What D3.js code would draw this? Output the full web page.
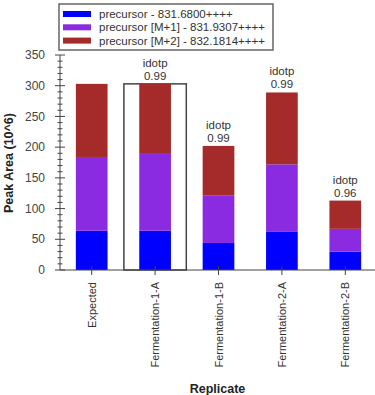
<!DOCTYPE html>
<html>
<head>
<meta charset="utf-8">
<script src="https://cdn.jsdelivr.net/npm/d3@7"></script>
<style>
  html, body { margin: 0; padding: 0; background: #fff; }
  svg { display: block; font-family: "Liberation Sans", Arial, sans-serif; }
</style>
</head>
<body>
<svg id="chart" width="375" height="395"></svg>
<script>
const categories = ["Expected", "Fermentation-1-A", "Fermentation-1-B", "Fermentation-2-A", "Fermentation-2-B"];
const seriesNames = ["precursor - 831.6800++++", "precursor [M+1] - 831.9307++++", "precursor [M+2] - 832.1814++++"];
const seriesColors = ["#0000FF", "#8A2BE2", "#A52A2A"];
const precursorM0 = [64, 64, 44, 62, 30];
const precursorM1 = [120, 125, 77, 110, 37];
const precursorM2 = [119, 114, 81, 117, 46];
const idotpLabels = [null, "0.99", "0.99", "0.99", "0.96"];
const selectedIndex = 1;
const yTicks = [0, 50, 100, 150, 200, 250, 300, 350];

(function () {
const svg = d3.select("#chart");
const mLeft = 60, mRight = 377, mTop = 55, mBottom = 270;

const x = d3.scaleBand().domain(categories).range([mLeft, mRight]).paddingInner(0.5).paddingOuter(0.25);
const y = d3.scaleLinear().domain([0, 350]).range([mBottom, mTop]);

const rows = categories.map((c, i) => ({ cat: c, v: [precursorM0[i], precursorM1[i], precursorM2[i]] }));

// selection box
const step = x.step();
svg.append("rect")
  .attr("x", x(categories[selectedIndex]) + x.bandwidth() / 2 - step / 2 + 0.5)
  .attr("y", y(d3.sum(rows[selectedIndex].v)))
  .attr("width", step - 1)
  .attr("height", mBottom - y(d3.sum(rows[selectedIndex].v)))
  .attr("fill", "none").attr("stroke", "#444").attr("stroke-width", 1.5);

// stacked bars
rows.forEach((r, i) => {
  let acc = 0;
  r.v.forEach((val, s) => {
    svg.append("rect")
      .attr("x", x(r.cat))
      .attr("y", y(acc + val))
      .attr("width", x.bandwidth())
      .attr("height", y(acc) - y(acc + val))
      .attr("fill", seriesColors[s]);
    acc += val;
  });
  if (idotpLabels[i]) {
    const cx = x(r.cat) + x.bandwidth() / 2;
    const t = y(acc);
    svg.append("text").attr("x", cx).attr("y", t - 17).attr("text-anchor", "middle")
      .attr("font-size", 11.5).attr("fill", "#333").text("idotp");
    svg.append("text").attr("x", cx).attr("y", t - 4).attr("text-anchor", "middle")
      .attr("font-size", 11.5).attr("fill", "#333").text(idotpLabels[i]);
  }
});

// y axis
const yAxisG = svg.append("g").attr("transform", `translate(${mLeft},0)`);
yAxisG.append("line").attr("x1", 0).attr("x2", 0).attr("y1", y(350)).attr("y2", mBottom).attr("stroke", "#444");
d3.range(0, 351, 10).forEach(v => {
  const major = v % 50 === 0;
  yAxisG.append("line").attr("x1", major ? -5 : -2.5).attr("x2", major ? 5 : 2.5)
    .attr("y1", y(v)).attr("y2", y(v)).attr("stroke", "#444");
});
yTicks.forEach(v => {
  yAxisG.append("text").attr("x", -15).attr("y", y(v)).attr("dy", "0.35em")
    .attr("text-anchor", "end").attr("font-size", 12).attr("fill", "#444").text(v);
});

// x axis
svg.append("line").attr("x1", mLeft).attr("x2", mRight).attr("y1", mBottom).attr("y2", mBottom).attr("stroke", "#444");
categories.forEach(c => {
  const cx = x(c) + x.bandwidth() / 2;
  svg.append("line").attr("x1", cx).attr("x2", cx).attr("y1", mBottom - 4).attr("y2", mBottom + 5).attr("stroke", "#444");
  svg.append("text").attr("transform", `translate(${cx + 4},${mBottom + 12}) rotate(-90)`)
    .attr("text-anchor", "end").attr("font-size", 11).attr("fill", "#333").text(c);
});

// axis titles
svg.append("text").attr("x", (mLeft + mRight) / 2 - 1).attr("y", 393).attr("text-anchor", "middle")
  .attr("font-size", 12.5).attr("font-weight", "bold").attr("fill", "#222").text("Replicate");
svg.append("text").attr("transform", `translate(13,${163}) rotate(-90)`).attr("text-anchor", "middle")
  .attr("font-size", 12.5).attr("font-weight", "bold").attr("fill", "#222").text("Peak Area (10^6)");

// legend
const lg = svg.append("g");
lg.append("rect").attr("x", 59).attr("y", 4).attr("width", 214).attr("height", 46)
  .attr("fill", "#fff").attr("stroke", "#666").attr("stroke-width", 1.5);
seriesNames.forEach((n, i) => {
  const cy = 14 + i * 13.3;
  lg.append("rect").attr("x", 63).attr("y", cy - 3).attr("width", 28).attr("height", 6).attr("fill", seriesColors[i]);
  lg.append("text").attr("x", 99).attr("y", cy).attr("dy", "0.35em").attr("font-size", 11.5)
    .attr("fill", "#333").text(n);
});
})();
</script>
</body>
</html>
